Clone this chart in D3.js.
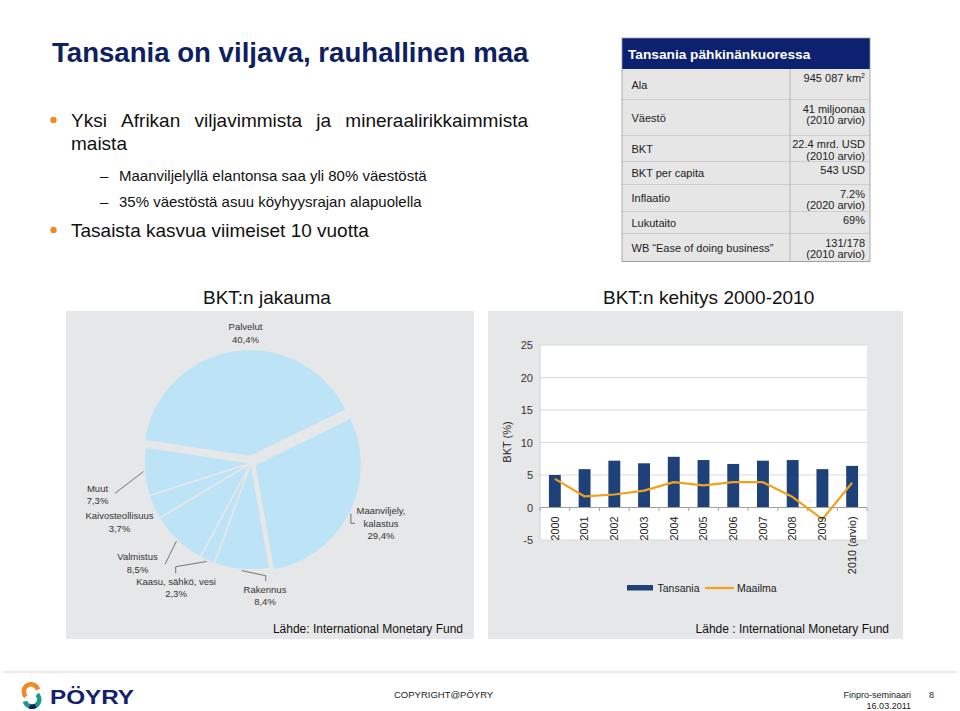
<!DOCTYPE html>
<html><head><meta charset="utf-8">
<script src="https://cdn.jsdelivr.net/npm/d3@7"></script>
<style>body{margin:0;background:#fff}svg{display:block;font-family:"Liberation Sans",Arial,sans-serif}</style>
</head><body><svg id="c" width="960" height="711"></svg>
<script>
// ---------- data ----------
const years = ["2000","2001","2002","2003","2004","2005","2006","2007","2008","2009","2010 (arvio)"];
const tansania = [5.0,5.9,7.2,6.8,7.8,7.3,6.7,7.2,7.3,5.9,6.4];
const maailma = [4.4,1.7,2.0,2.6,3.9,3.4,3.9,3.9,1.6,-1.8,3.8];
const yTicks = [-5,0,5,10,15,20,25];
const seriesNames = ["Tansania","Maailma"];

const sectors = ["Maanviljely,\nkalastus","Rakennus","Kaasu, sähkö, vesi","Valmistus","Kaivosteollisuus","Muut","Palvelut"];
const shares = [29.4,8.4,2.3,8.5,3.7,7.3,40.4];

const tableLabels = ["Ala","Väestö","BKT","BKT per capita","Inflaatio","Lukutaito","WB \u201cEase of doing business\u201d"];
const tableValues = [["945 087 km|2"],["41 miljoonaa","(2010 arvio)"],["22.4 mrd. USD","(2010 arvio)"],["543 USD"],["7.2%","(2020 arvio)"],["69%"],["131/178","(2010 arvio)"]];

const bullets = ["Yksi Afrikan viljavimmista ja mineraalirikkaimmista","maista"];
const subBullets = ["Maanviljelyllä elantonsa saa yli 80% väestöstä","35% väestöstä asuu köyhyysrajan alapuolella"];
const bullet2 = "Tasaista kasvua viimeiset 10 vuotta";

// ---------- layout ----------
const svg = d3.select("#c");
const NAVY = "#0f1f5f", PANEL = "#e6e7e8", BLUE = "#bde3f6", BAR = "#1f4179", ORANGE = "#f0a21c";

// Title
svg.append("text").attr("x",52).attr("y",62).attr("font-size",27.6).attr("font-weight","bold")
  .attr("fill",NAVY).text("Tansania on viljava, rauhallinen maa");

// bullets
const dot = (y)=>svg.append("circle").attr("cx",53.5).attr("cy",y).attr("r",3.2).attr("fill","#f08a24");
dot(120); dot(230);
{
  const words = bullets[0].split(" ");
  const g = svg.append("g").attr("font-size",19).attr("fill","#111");
  const ts = words.map(w=>g.append("text").attr("y",127).text(w));
  const widths = ts.map(t=>t.node().getComputedTextLength());
  const total = d3.sum(widths), x0 = 71, x1 = 528;
  const gap = (x1-x0-total)/(words.length-1);
  let x = x0; ts.forEach((t,i)=>{t.attr("x",x); x += widths[i]+gap;});
  g.append("text").attr("x",71).attr("y",150).text(bullets[1]);
  g.append("text").attr("x",71).attr("y",237).text(bullet2);
}
subBullets.forEach((s,i)=>{
  const y = 181 + i*26;
  svg.append("text").attr("x",100).attr("y",y).attr("font-size",15).attr("fill","#111").text("–");
  svg.append("text").attr("x",119).attr("y",y).attr("font-size",15).attr("fill","#111").text(s);
});

// ---------- table ----------
{
  const tx = 622, tw = 248, colX = 790;
  const rowH = [31,35.5,26,23.5,26.5,22.5,27.5];
  const g = svg.append("g");
  g.append("rect").attr("x",tx).attr("y",38).attr("width",tw).attr("height",31).attr("fill","#0c2270");
  g.append("text").attr("x",628).attr("y",58.5).attr("font-size",13.7).attr("font-weight","bold")
    .attr("fill","#fff").text("Tansania pähkinänkuoressa");
  let y = 69;
  tableLabels.forEach((lab,i)=>{
    const h = rowH[i];
    g.append("rect").attr("x",tx).attr("y",y).attr("width",tw).attr("height",h).attr("fill","#e6e6e6");
    g.append("line").attr("x1",tx).attr("x2",tx+tw).attr("y1",y+h).attr("y2",y+h).attr("stroke","#a9a9a9").attr("stroke-width",0.8);
    g.append("text").attr("x",631.5).attr("y",y+h/2+4).attr("font-size",11).attr("fill","#222").text(lab);
    tableValues[i].forEach((v,j)=>{
      const t = g.append("text").attr("x",865).attr("y",y+12.5+j*11.7).attr("font-size",11)
        .attr("text-anchor","end").attr("fill","#222");
      if (v.includes("|")) {
        const [a,b] = v.split("|");
        t.append("tspan").text(a);
        t.append("tspan").attr("font-size",7).attr("dy",-4).text(b);
      } else t.text(v);
    });
    y += h;
  });
  g.append("line").attr("x1",colX).attr("x2",colX).attr("y1",69).attr("y2",y).attr("stroke","#a9a9a9").attr("stroke-width",0.8);
  g.append("rect").attr("x",tx).attr("y",38).attr("width",tw).attr("height",y-38).attr("fill","none").attr("stroke","#9a9a9a").attr("stroke-width",0.8);
}

// ---------- section titles ----------
svg.append("text").attr("x",203).attr("y",304).attr("font-size",19).attr("fill","#111").text("BKT:n jakauma");
svg.append("text").attr("x",603).attr("y",304).attr("font-size",19).attr("fill","#111").text("BKT:n kehitys 2000-2010");

// ---------- pie ----------
{
  svg.append("rect").attr("x",66).attr("y",311).attr("width",408).attr("height",328).attr("fill",PANEL);
  const cx = 251, cy = 463, r = 107;
  const offsets = [4,0,0,0,0,0,6.5];
  const deg = Math.PI/180;
  const pie = d3.pie().sort(null).value(d=>d).startAngle(64*deg).endAngle(424*deg);
  const arcs = pie(shares);
  const arc = d3.arc().innerRadius(0).outerRadius(r);
  const g = svg.append("g").attr("transform",`translate(${cx},${cy})`);
  const off = (a,i)=>{const m=(a.startAngle+a.endAngle)/2;return [Math.sin(m)*offsets[i],-Math.cos(m)*offsets[i]];};
  g.selectAll("path").data(arcs).join("path")
    .attr("d",arc).attr("fill",BLUE).attr("stroke",PANEL).attr("stroke-width",1.6).attr("stroke-linejoin","round")
    .attr("transform",(a,i)=>{const o=off(a,i);return `translate(${o[0]},${o[1]})`;});
  const labelPos = [[381,510.5],[265,589],[176,581],[137.5,556.5],[119.5,515.5],[97.5,488],[245.5,326.5]];
  const pct = d3.format(".1f");
  arcs.forEach((a,i)=>{
    const lines = sectors[i].split("\n").concat([pct(shares[i]).replace(".",",")+"%"]);
    const t = svg.append("text").attr("font-size",9.5).attr("fill","#333").attr("text-anchor","middle");
    lines.forEach((l,k)=>t.append("tspan").attr("x",labelPos[i][0]).attr("y",labelPos[i][1]+3.5+k*12.5).text(l));
  });
  const edge = (i,rr)=>{const a=arcs[i];const m=(a.startAngle+a.endAngle)/2;const o=off(a,i);
    return [cx+o[0]+Math.sin(m)*rr, cy+o[1]-Math.cos(m)*rr];};
  const leaders = [
    [0,[[null,523.3],[355,523.3]]],
    [1,[[265.7,575.7],[265.7,581]]],
    [2,[[175.7,566.7],[175.7,573.3]]],
    [3,[[165,564.3]]],
    [5,[[115,493.3]]]
  ];
  leaders.forEach(([i,pts])=>{
    const s = edge(i,r+1);
    const p = [s].concat(pts.map(q=>[q[0]===null?s[0]:q[0],q[1]]));
    svg.append("path").attr("d",d3.line()(p)).attr("fill","none").attr("stroke","#555").attr("stroke-width",0.8);
  });
  svg.append("text").attr("x",463).attr("y",633).attr("font-size",12).attr("text-anchor","end").attr("fill","#111")
    .text("Lähde: International Monetary Fund");
}

// ---------- bar chart ----------
{
  svg.append("rect").attr("x",488).attr("y",311).attr("width",415).attr("height",328).attr("fill",PANEL);
  const x0 = 540, x1 = 867;
  const x = d3.scaleBand().domain(years).range([x0,x1]).paddingInner(0.6).paddingOuter(0.3);
  const y = d3.scaleLinear().domain([-5,25]).range([540,345]);
  svg.append("rect").attr("x",x0).attr("y",y(25)).attr("width",x1-x0).attr("height",y(-5)-y(25)).attr("fill","#fff");
  const g = svg.append("g");
  g.selectAll(".grid").data(yTicks).join("line")
    .attr("x1",x0).attr("x2",x1).attr("y1",d=>y(d)).attr("y2",d=>y(d)).attr("stroke","#d9d9d9").attr("stroke-width",1);
  g.append("line").attr("x1",x0).attr("x2",x0).attr("y1",y(25)).attr("y2",y(-5)).attr("stroke","#d0d0d0");
  g.selectAll(".yl").data(yTicks).join("text").attr("x",533).attr("y",d=>y(d)+4)
    .attr("text-anchor","end").attr("font-size",11).attr("fill","#333").text(d=>d);
  g.selectAll(".bar").data(tansania).join("rect")
    .attr("x",(d,i)=>x(years[i])).attr("width",x.bandwidth())
    .attr("y",d=>y(Math.max(0,d))).attr("height",d=>Math.abs(y(d)-y(0))).attr("fill",BAR);
  g.append("line").attr("x1",x0).attr("x2",x1).attr("y1",y(0)).attr("y2",y(0)).attr("stroke","#a0a0a0");
  const step = x.step();
  g.selectAll(".tk").data(d3.range(years.length+1)).join("line")
    .attr("x1",i=>x0+i*step).attr("x2",i=>x0+i*step).attr("y1",y(0)).attr("y2",y(0)+3.5).attr("stroke","#a0a0a0");
  const line = d3.line().x((d,i)=>x(years[i])+x.bandwidth()/2).y(d=>y(d));
  g.append("path").attr("d",line(maailma)).attr("fill","none").attr("stroke",ORANGE).attr("stroke-width",2.2).attr("stroke-linejoin","round");
  g.selectAll(".xl").data(years).join("text")
    .attr("transform",d=>`translate(${x(d)+x.bandwidth()/2+3.8},${y(0)+9}) rotate(-90)`)
    .attr("text-anchor","end").attr("font-size",10.8).attr("fill","#222").text(d=>d);
  svg.append("text").attr("transform","translate(511,442) rotate(-90)").attr("text-anchor","middle")
    .attr("font-size",11).attr("fill","#222").text("BKT (%)");
  svg.append("rect").attr("x",627).attr("y",585).attr("width",26).attr("height",5.5).attr("fill",BAR);
  svg.append("text").attr("x",657.5).attr("y",592).attr("font-size",10.5).attr("fill","#222").text(seriesNames[0]);
  svg.append("line").attr("x1",705).attr("x2",734).attr("y1",588).attr("y2",588).attr("stroke",ORANGE).attr("stroke-width",2.2);
  svg.append("text").attr("x",737).attr("y",592).attr("font-size",10.5).attr("fill","#222").text(seriesNames[1]);
  svg.append("text").attr("x",889).attr("y",633).attr("font-size",12).attr("text-anchor","end").attr("fill","#111")
    .text("Lähde : International Monetary Fund");
}

// ---------- footer ----------
svg.append("line").attr("x1",3).attr("x2",957).attr("y1",672).attr("y2",672).attr("stroke","#e2e2e2").attr("stroke-width",1.5);
{
  const deg = Math.PI/180;
  const a = d3.arc().innerRadius(5).outerRadius(9.5);
  svg.append("path").attr("transform","translate(31,691.5)").attr("d",a({startAngle:-135*deg,endAngle:75*deg})).attr("fill","#f08a24");
  svg.append("path").attr("transform","translate(32,699.5)").attr("d",a({startAngle:45*deg,endAngle:255*deg})).attr("fill","#1a9a8a");
  svg.append("path").attr("transform","translate(32,699.5)").attr("d",a({startAngle:150*deg,endAngle:200*deg})).attr("fill",NAVY);
  svg.append("text").attr("x",50).attr("y",703.5).attr("font-size",20).attr("font-weight","bold").attr("fill","#13216a")
    .attr("textLength",84).attr("lengthAdjust","spacingAndGlyphs").text("PÖYRY");
}
svg.append("text").attr("x",394).attr("y",698).attr("font-size",9.5).attr("fill","#222").text("COPYRIGHT@PÖYRY");
svg.append("text").attr("x",911).attr("y",698).attr("font-size",9).attr("text-anchor","end").attr("fill","#222").text("Finpro-seminaari");
svg.append("text").attr("x",929).attr("y",698).attr("font-size",9).attr("fill","#222").text("8");
svg.append("text").attr("x",911).attr("y",709).attr("font-size",9).attr("text-anchor","end").attr("fill","#222").text("16.03.2011");
</script></body></html>
